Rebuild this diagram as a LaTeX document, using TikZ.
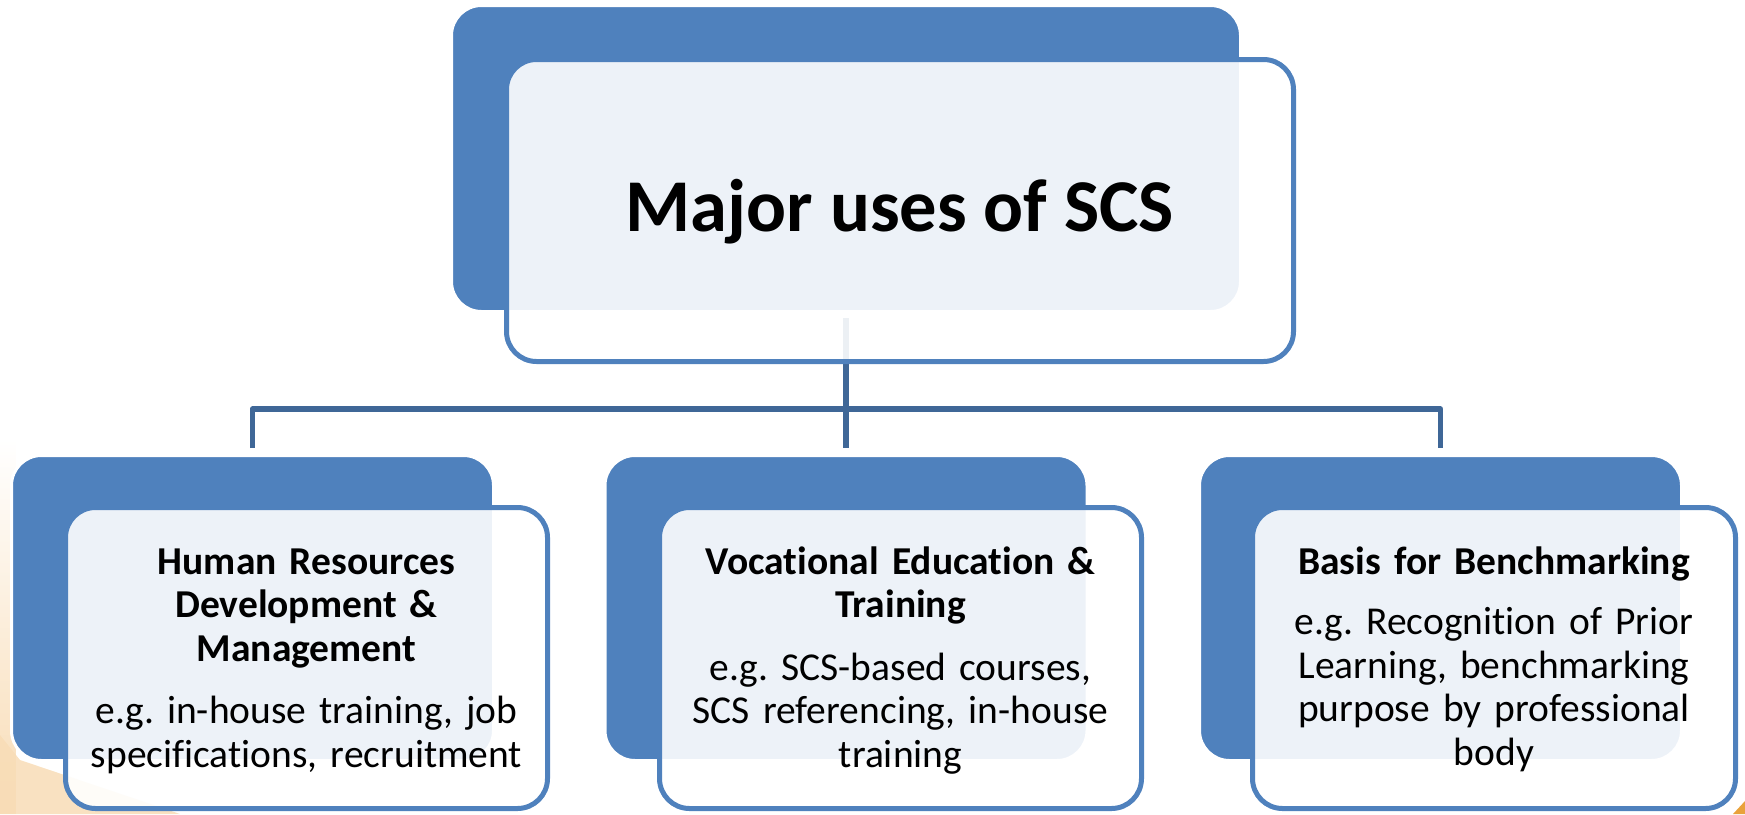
\documentclass[tikz,border=0pt]{standalone}
\usepackage{fontspec}
\setmainfont{Carlito}[Ligatures={NoCommon,NoRequired,NoContextual}]
\usetikzlibrary{fadings}
\definecolor{boxblue}{HTML}{4F81BD}
\definecolor{linkblue}{HTML}{3F6797}
\definecolor{peach}{HTML}{F8DCB6}
\definecolor{curl}{HTML}{E9A23B}
\frenchspacing
\tikzset{
  backbox/.style={rectangle, rounded corners=30pt, fill=boxblue, draw=white,
    line width=3pt, inner sep=0pt},
  frontbox/.style={rectangle, rounded corners=30pt, fill=white, fill opacity=0.9,
    draw=boxblue, draw opacity=1, line width=5pt, inner sep=0pt},
  link/.style={draw=linkblue, line width=5.5pt, line join=round},
  usetext/.style={text width=470pt, align=center, inner sep=0pt, anchor=base,
    font=\fontsize{39.5}{43.5}\selectfont},
}
\begin{document}
\begin{tikzpicture}[x=1pt,y=-1pt]
\useasboundingbox (0,0) rectangle (1745,814);

% warm glow of the slide background, lower corners
\fill[peach, path fading=north] (0,440) rectangle (16,814);
\fill[peach, opacity=0.85] (0,735) -- (20,760) -- (180,814) -- (0,814) -- cycle;
\fill[curl] (1733,814) -- (1745,801) -- (1745,814) -- cycle;

% back (blue) panels
\node[backbox, minimum width=789pt, minimum height=306pt] (topback) at (846,158.5) {};
\node[backbox, minimum width=482pt, minimum height=305pt] (lback) at (252.5,608) {};
\node[backbox, minimum width=482pt, minimum height=305pt] (mback) at (846,608) {};
\node[backbox, minimum width=482pt, minimum height=305pt] (rback) at (1440.5,608) {};

% connectors
\coordinate (bus) at (846,409);
\draw[link] ([yshift=-5pt]topback.south) -- ([yshift=6pt]mback.north);
\draw[link] ([yshift=6pt]lback.north) -- (lback.north |- bus)
  -- (rback.north |- bus) -- ([yshift=6pt]rback.north);

% front (light) panels
\node[frontbox, minimum width=787pt, minimum height=302pt] (topfront) at (900,210.5) {};
\node[frontbox, minimum width=482pt, minimum height=301pt] (lfront) at (306.5,658) {};
\node[frontbox, minimum width=482pt, minimum height=301pt] (mfront) at (900.5,658) {};
\node[frontbox, minimum width=483pt, minimum height=301pt] (rfront) at (1494,658) {};

% texts
\node[anchor=base, inner sep=0pt, font=\fontsize{74.5}{90}\selectfont\bfseries]
  (title) at (900,231) {Major uses of SCS};
\node[usetext] (ltext) at (306.5,574)
  {{\bfseries Human Resources\\ Development \&\\ Management}\\[19pt]
   e.g. in-house training, job\\ specifications, recruitment};
\node[usetext] (mtext) at (900.5,574)
  {{\bfseries Vocational Education \&\\ Training}\\[19pt]
   e.g. SCS-based courses,\\ SCS referencing, in-house\\ training};
\node[usetext] (rtext) at (1494,574)
  {{\bfseries Basis for Benchmarking}\\[17pt]
   e.g. Recognition of Prior\\ Learning, benchmarking\\ purpose by professional\\ body};
\end{tikzpicture}
\end{document}
